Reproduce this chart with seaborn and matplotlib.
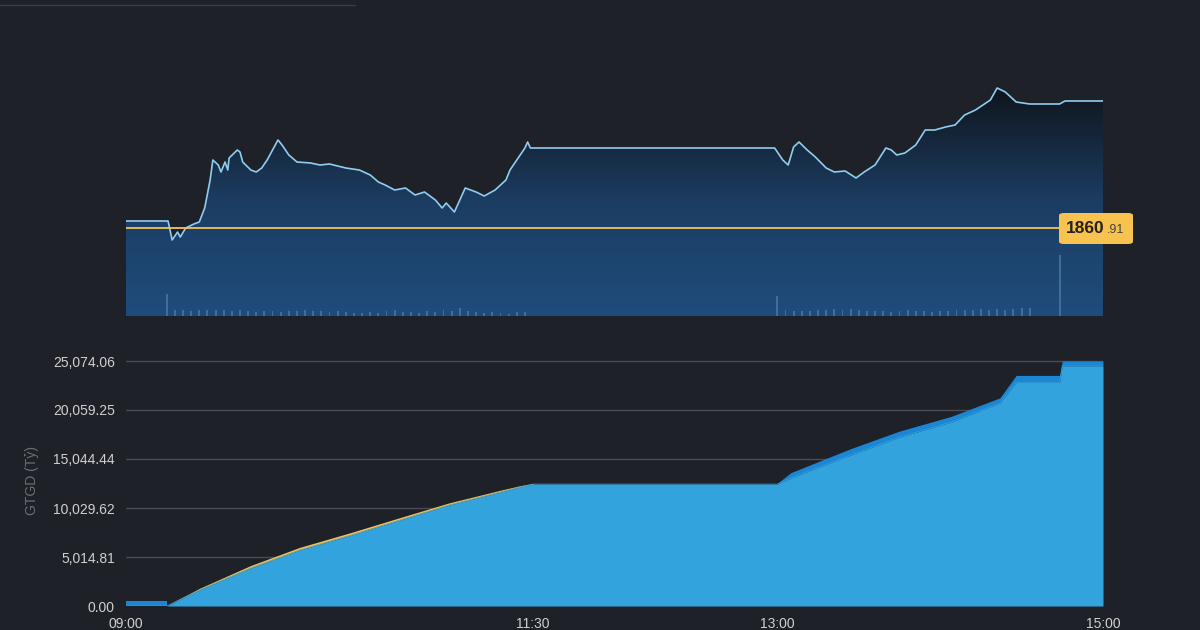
import numpy as np
import pandas as pd
import matplotlib
matplotlib.use("Agg")
import matplotlib.pyplot as plt
import seaborn as sns

# ---- data ----
price_min = [0, 15.5, 17, 19, 20, 22, 25, 27, 29, 31, 32, 34, 35, 36.5, 37.5, 38, 41, 42, 43, 46, 48, 50, 52, 56, 57.5,
             60, 63, 68, 71.5, 75, 81, 86, 90, 93, 95.5, 99, 103, 106.5, 110, 114, 116.5, 118, 121, 123, 125, 129, 132,
             136, 140, 141.5, 144, 147, 148, 149, 239, 242, 244, 246, 248, 251, 254, 258, 261, 265, 269, 272, 276, 280,
             282, 284, 287, 291, 294.5, 298, 302, 305.5, 309, 313, 318.5, 321, 324, 328, 333, 344, 346, 360]
price_val = [1861.6, 1861.6, 1859.7, 1860.5, 1860.0, 1860.9, 1861.3, 1861.5, 1862.9, 1865.7, 1867.7, 1867.2, 1866.5,
             1867.5, 1866.7, 1867.9, 1868.7, 1868.5, 1867.5, 1866.7, 1866.5, 1866.9, 1867.7, 1869.7, 1869.2, 1868.2,
             1867.5, 1867.4, 1867.2, 1867.3, 1866.9, 1866.7, 1866.2, 1865.5, 1865.2, 1864.7, 1864.9, 1864.2, 1864.5,
             1863.7, 1862.9, 1863.4, 1862.5, 1863.7, 1864.9, 1864.5, 1864.1, 1864.7, 1865.7, 1866.7, 1867.7, 1868.9,
             1869.5, 1868.9, 1868.9, 1867.7, 1867.2, 1869.0, 1869.5, 1868.7, 1868.0, 1866.9, 1866.5, 1866.6, 1865.9,
             1866.5, 1867.2, 1868.9, 1868.7, 1868.2, 1868.4, 1869.2, 1870.7, 1870.7, 1871.0, 1871.2, 1872.2, 1872.7,
             1873.7, 1874.9, 1874.5, 1873.5, 1873.3, 1873.3, 1873.6, 1873.6]
ref_price = 1860.91

vol_min_am = list(range(15, 150, 3))
vol_am = [28, 7, 7, 6, 7, 7, 8, 7, 6, 7, 6, 5, 6, 6, 5, 6, 6, 7, 6, 6, 5, 6, 5, 4, 4, 5, 4, 6, 7, 5, 5, 4, 6, 5, 7, 6,
          10, 6, 5, 4, 5, 4, 3, 5, 5]
vol_min_pm = list(range(240, 336, 3))
vol_pm = [25, 7, 6, 6, 6, 7, 8, 9, 8, 9, 7, 6, 6, 6, 5, 6, 7, 6, 6, 5, 6, 6, 7, 7, 8, 9, 8, 9, 8, 9, 10, 10]
vol_spike_min = [344]
vol_spike = [78]

gt_min = [0, 15, 15, 27, 46, 64, 83, 101, 119, 138, 145, 150, 240, 245, 267, 285, 304, 322, 328, 344, 345, 360]
gt_light = [0, 0, 0, 1640, 3890, 5730, 7260, 8800, 10330, 11660, 12170, 12480, 12480, 13100, 15450, 17290, 18820,
            20770, 22900, 22900, 24560, 24560]
gt_total = [500, 500, 0, 1800, 4150, 6000, 7530, 9050, 10550, 11850, 12300, 12550, 12560, 13650, 16100, 17900, 19400,
            21300, 23600, 23600, 25074, 25074]

yticks = [0.00, 5014.81, 10029.62, 15044.44, 20059.25, 25074.06]
xtick_min = [0, 150, 240, 360]
xtick_lab = ["09:00", "11:30", "13:00", "15:00"]

# ---- style ----
sns.set_theme(style="dark")
BG = "#1f2128"
plt.rcParams['font.family'] = ['Liberation Sans', 'DejaVu Sans']
fig = plt.figure(figsize=(12, 6.3), dpi=100, facecolor=BG)

# ---- top price panel ----
ax1 = fig.add_axes([126/1200, 1-316/630, 977/1200, 236/630])
ax1.set_facecolor(BG)
ylo, yhi = 1852.1, 1875.7
ax1.set_xlim(0, 360); ax1.set_ylim(ylo, yhi)
grad = np.linspace(0, 1, 256).reshape(-1, 1)
cmap = matplotlib.colors.LinearSegmentedColormap.from_list("g", ["#10151d", "#1c3d62", "#1f4c7d"])
im = ax1.imshow(grad, extent=[0, 360, ylo, max(price_val)], origin="upper", aspect="auto", cmap=cmap, zorder=1)
clip = matplotlib.patches.Polygon(np.vstack([np.column_stack([price_min, price_val]),
                                             [[360, ylo], [0, ylo]]]), transform=ax1.transData)
im.set_clip_path(clip)
sns.lineplot(x=price_min, y=price_val, ax=ax1, color="#8fcdf0", lw=1.2, zorder=4)
ax1.axhline(ref_price, color="#f2c35a", lw=1.3, zorder=5)

axv = ax1.twinx()
axv.set_ylim(0, 300)
for xs, hs in ((vol_min_am, vol_am), (vol_min_pm, vol_pm), (vol_spike_min, vol_spike)):
    axv.bar(xs, hs, width=0.7, color="#4f7aa3", edgecolor="none", alpha=0.75)
for a in (ax1, axv):
    a.set_xticks([]); a.set_yticks([])
    for s in a.spines.values():
        s.set_visible(False)

box = matplotlib.patches.FancyBboxPatch((1059/1200, 1-244/630), 74/1200, 31/630,
                                        boxstyle="round,pad=0,rounding_size=0.004",
                                        transform=fig.transFigure, fc="#f7c24d", ec="none", zorder=10)
fig.add_artist(box)
fig.text(1066/1200, 1-228/630, "1860", ha="left", va="center", fontsize=12.5, fontweight="bold",
         color="#222222", zorder=11)
fig.text(1107/1200, 1-230/630, ".91", ha="left", va="center", fontsize=9, color="#444444", zorder=11)

# ---- bottom cumulative value panel ----
ax2 = fig.add_axes([126/1200, 1-606/630, 977/1200, 251/630])
ax2.set_facecolor(BG)
ax2.set_xlim(0, 360); ax2.set_ylim(0, 25074.06*251/245)
gm = np.array(gt_min); gt = np.array(gt_total); gl = np.array(gt_light)
am = (gm <= 150) & (np.arange(len(gm)) >= 2)
pm = gm >= 240
ax2.fill_between(gm[am], gt[am], gl[am], color="#f4c04e", lw=0, zorder=2)
ax2.fill_between(gm[:3], gt[:3], color="#1a86d6", lw=0, zorder=2)
ax2.fill_between(gm[pm], gt[pm], gl[pm], color="#1a86d6", lw=0, zorder=2)
ax2.fill_between(gm, gl, color="#33a3dd", lw=0, zorder=3)
sns.lineplot(x=gt_min, y=gt_light, ax=ax2, color="#33a3dd", lw=0.5, zorder=3)
ax2.set_yticks(yticks)
ax2.set_yticklabels([f"{v:,.2f}" for v in yticks], color="#d0d0d0", fontsize=10)
ax2.set_xticks(xtick_min)
ax2.set_xticklabels(xtick_lab, color="#d0d0d0", fontsize=10)
ax2.tick_params(length=0, pad=8)
ax2.grid(axis="y", color="#4a4c53", lw=1)
ax2.grid(axis="x", visible=False)
ax2.set_ylabel("GTGD (Tỷ)", color="#6c6e74", fontsize=10, labelpad=10)
ax2.set_xlabel("")
for s in ax2.spines.values():
    s.set_visible(False)

fig.add_artist(matplotlib.lines.Line2D([0, 355/1200], [1-5/630, 1-5/630], color="#3a3c43", lw=1))

fig.savefig("out.png", dpi=100, facecolor=BG)
